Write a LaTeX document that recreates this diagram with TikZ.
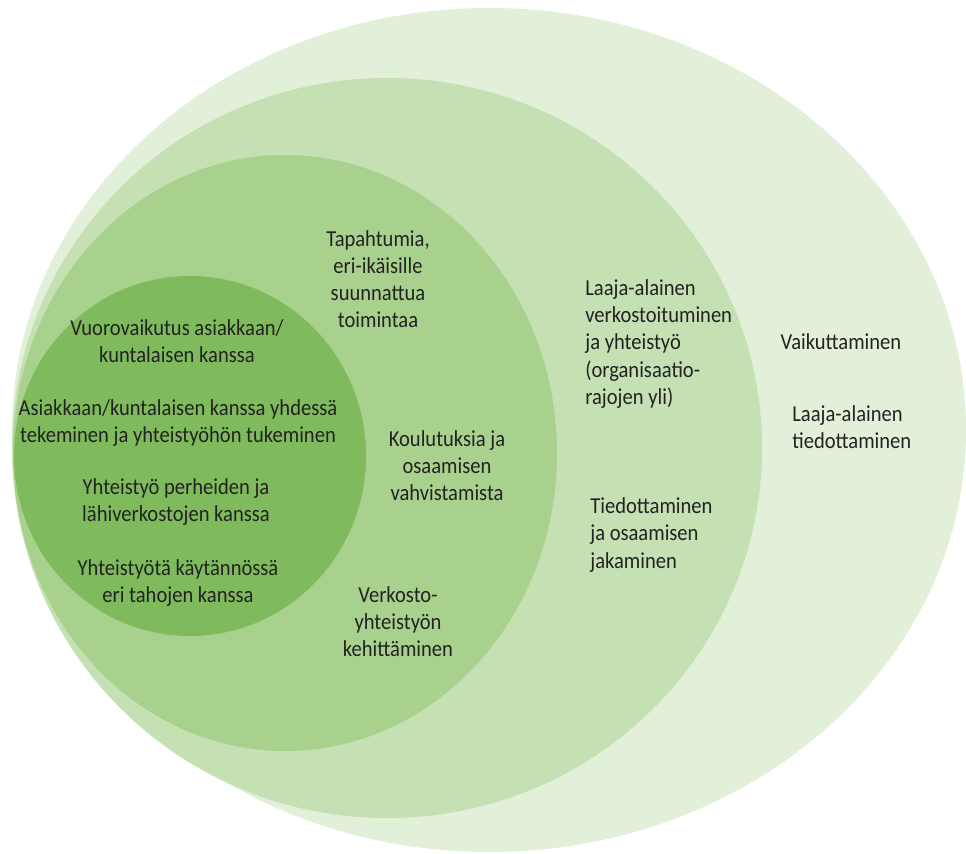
\documentclass[tikz,border=0pt]{standalone}
\usepackage{fontspec}
\setmainfont{Carlito}[FakeStretch=0.9]
\usepackage{tikz}

\definecolor{ringOuter}{HTML}{E2EFD9}
\definecolor{ringSecond}{HTML}{C5E0B3}
\definecolor{ringThird}{HTML}{A9D18E}
\definecolor{ringInner}{HTML}{7FBB5C}
\definecolor{txtgray}{HTML}{222222}

\begin{document}
\begin{tikzpicture}[
x=0.02cm, y=-0.02cm, % pixel grid of the page, y runs downwards
every node/.style={font=\fontsize{13}{15.4}\selectfont, text=txtgray, inner sep=0pt},
mid/.style={align=center},
lft/.style={align=left, anchor=west}
]
\useasboundingbox (0,0) rectangle (966,854);

% ================= Rings (outer to inner) =================
\fill[ringOuter] (489,430) ellipse [x radius=477, y radius=422];
\fill[ringSecond] (387,448) ellipse [x radius=375, y radius=370];
\fill[ringThird] (285,453) ellipse [x radius=272, y radius=298];
\fill[ringInner] (190,456) ellipse [x radius=176, y radius=180];

% ================= Inner circle =================
\node[mid] (vuoro) at (177,341) {Vuorovaikutus asiakkaan/\\kuntalaisen kanssa};
\node[mid] (yhdessa) at (178,423) {Asiakkaan/kuntalaisen kanssa yhdessä\\tekeminen ja yhteistyöhön tukeminen};
\node[mid] (perhe) at (176,502) {Yhteistyö perheiden ja\\lähiverkostojen kanssa};
\node[mid] (tahot) at (178,583) {Yhteistyötä käytännössä\\eri tahojen kanssa};

% ================= Third ring =================
\node[mid] (tapaht) at (378,279) {Tapahtumia,\\eri-ikäisille\\suunnattua\\toimintaa};
\node[mid] (koulut) at (447,466) {Koulutuksia ja\\osaamisen\\vahvistamista};
\node[mid] (verkko) at (398,622) {Verkosto-\\yhteistyön\\kehittäminen};

% ================= Second ring =================
\node[lft] (laaja) at (585,344) {Laaja-alainen\\verkostoituminen\\ja yhteistyö\\(organisaatio-\\rajojen yli)};
\node[lft] (tiedot) at (590,535) {Tiedottaminen\\ja osaamisen\\jakaminen};

% ================= Outer ring =================
\node[mid] (vaikut) at (841,342) {Vaikuttaminen};
\node[lft] (laajatied) at (792,427) {Laaja-alainen\\tiedottaminen};

\end{tikzpicture}
\end{document}
